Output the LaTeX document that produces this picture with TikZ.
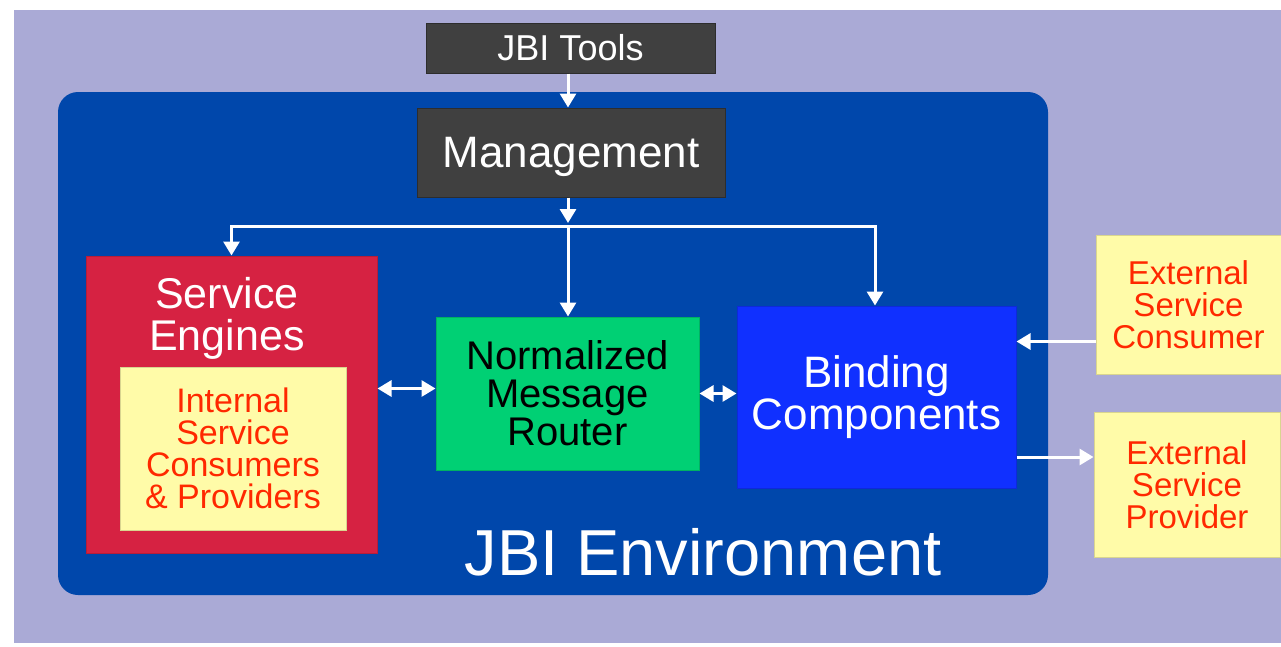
\documentclass[tikz,border=0pt]{standalone}
\usepackage{fontspec}
\setmainfont{Liberation Sans}
\usetikzlibrary{arrows.meta}

\definecolor{bgpurple}{RGB}{170,170,214}
\definecolor{envblue}{RGB}{0,71,171}
\definecolor{toolgray}{RGB}{64,64,64}
\definecolor{enginered}{RGB}{214,34,66}
\definecolor{noteyellow}{RGB}{255,251,168}
\definecolor{notered}{RGB}{255,40,0}
\definecolor{routergreen}{RGB}{0,208,116}
\definecolor{bindblue}{RGB}{16,48,255}

\tikzset{
	box/.style={rectangle, inner sep=0pt, align=center, line width=1pt},
	flow/.style={draw=white, line width=3pt, -{Triangle[length=14pt,width=16pt]}},
	dflow/.style={draw=white, line width=3pt, {Triangle[length=14pt,width=16pt]}-{Triangle[length=14pt,width=16pt]}},
}

\begin{document}
\begin{tikzpicture}[x=1pt,y=-1pt]
	\useasboundingbox (0,0) rectangle (1281,646);
	\fill[white] (0,0) rectangle (1281,646);
	\fill[bgpurple] (14,10) rectangle (1281,643);
	% JBI environment
	\fill[envblue,rounded corners=20pt] (58,92) rectangle (1048,595);
	\node[text=white,font=\fontsize{65}{65}\selectfont] (envlabel) at (703,552) {JBI Environment};
	% boxes
	\node[box,fill=toolgray,draw=toolgray!70!black,minimum width=289pt,minimum height=50pt,text=white,font=\fontsize{36}{36}\selectfont] (tools) at (570.5,48) {JBI Tools};
	\node[box,fill=toolgray,draw=toolgray!70!black,minimum width=308pt,minimum height=89pt,text=white,text depth=0pt,font=\fontsize{44}{44}\selectfont] (mgmt) at (571,152.5) {Management};
	\node[box,fill=enginered,draw=enginered!85!black,minimum width=291pt,minimum height=297pt] (se) at (231.5,404.5) {};
	\node[text=white,align=center,font=\fontsize{43}{42}\selectfont] (setitle) at (227,318) {Service\\Engines};
	\node[box,fill=noteyellow,draw=noteyellow!85!black,minimum width=226pt,minimum height=163pt,text=notered,font=\fontsize{34}{32}\selectfont] (internal) at (233,448.5) {Internal\\Service\\Consumers\\\& Providers};
	\node[box,fill=routergreen,draw=routergreen!85!black,minimum width=263pt,minimum height=153pt,font=\fontsize{40}{38}\selectfont] (nmr) at (567.5,393.5) {Normalized\\Message\\Router};
	\node[box,fill=bindblue,draw=bindblue!85!black,minimum width=279pt,minimum height=182pt,text=white,font=\fontsize{44}{42}\selectfont] (bc) at (876.5,397) {Binding\\Components};
	\node[box,fill=noteyellow,draw=noteyellow!85!black,minimum width=185pt,minimum height=139pt,text=notered,font=\fontsize{33}{32}\selectfont] (consumer) at (1188.5,304.5) {External\\Service\\Consumer};
	\node[box,fill=noteyellow,draw=noteyellow!85!black,minimum width=186pt,minimum height=145pt,text=notered,font=\fontsize{33}{32}\selectfont] (provider) at (1187,484.5) {External\\Service\\Provider};
	% connectors
	\coordinate (hub) at (568,226);
	\draw[flow] (tools.south -| hub) -- (mgmt.north -| hub);
	\draw[flow] (mgmt.south -| hub) -- ([yshift=3pt]hub);
	\draw[flow] (hub) -| (se.north);
	\draw[flow] (hub) -| ([xshift=-1.5pt]bc.north);
	\draw[flow] (hub) -- (nmr.north -| hub);
	\draw[dflow] ([yshift=5pt]nmr.west) -- ([yshift=5pt]nmr.west -| se.east);
	\draw[dflow] (nmr.east) -- (nmr.east -| bc.west);
	\draw[flow] ([yshift=-37pt]consumer.west) -- ([yshift=-37pt]consumer.west -| bc.east);
	\draw[flow] ([yshift=-60pt]bc.east) -- ([yshift=-60pt]bc.east -| provider.west);
\end{tikzpicture}
\end{document}
